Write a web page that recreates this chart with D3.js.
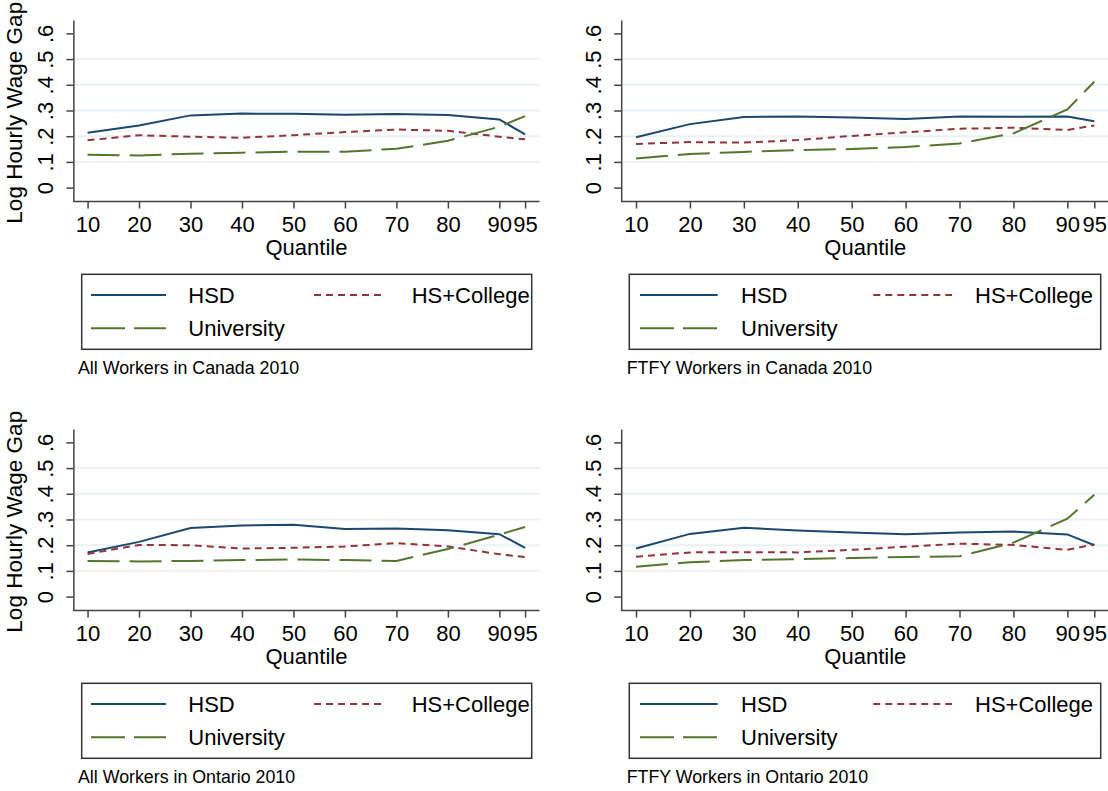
<!DOCTYPE html>
<html>
<head>
<meta charset="utf-8">
<script src="https://cdn.jsdelivr.net/npm/d3@7"></script>
<style>
  body { margin: 0; background: #fff; }
  svg { display: block; font-family: "Liberation Sans", Arial, Helvetica, sans-serif; }
</style>
</head>
<body>
<div id="chart"></div>
<script>
// quantiles on the x axis
const quantiles = [10, 20, 30, 40, 50, 60, 70, 80, 90, 95];
const yTicks = [0, 0.1, 0.2, 0.3, 0.4, 0.5, 0.6];
const gridTicks = [0.1, 0.2, 0.3, 0.4, 0.5];
const seriesNames = ["HSD", "HS+College", "University"];

// All workers, Canada
const canAllHSD = [0.213, 0.242, 0.281, 0.288, 0.287, 0.283, 0.286, 0.282, 0.265, 0.207];
const canAllCollege = [0.184, 0.204, 0.198, 0.194, 0.204, 0.216, 0.226, 0.221, 0.198, 0.188];
const canAllUniv = [0.128, 0.125, 0.132, 0.136, 0.140, 0.140, 0.151, 0.182, 0.237, 0.278];

// FTFY workers, Canada
const canFtfyHSD = [0.196, 0.247, 0.275, 0.277, 0.273, 0.267, 0.277, 0.276, 0.277, 0.258];
const canFtfyCollege = [0.170, 0.177, 0.175, 0.185, 0.201, 0.215, 0.229, 0.233, 0.224, 0.242];
const canFtfyUniv = [0.113, 0.131, 0.139, 0.146, 0.150, 0.158, 0.172, 0.211, 0.304, 0.412];

// All workers, Ontario
const ontAllHSD = [0.172, 0.213, 0.267, 0.277, 0.280, 0.263, 0.265, 0.258, 0.243, 0.190];
const ontAllCollege = [0.166, 0.201, 0.200, 0.187, 0.190, 0.195, 0.208, 0.195, 0.165, 0.154];
const ontAllUniv = [0.139, 0.137, 0.139, 0.142, 0.145, 0.142, 0.139, 0.185, 0.241, 0.271];

// FTFY workers, Ontario
const ontFtfyHSD = [0.187, 0.244, 0.268, 0.257, 0.249, 0.243, 0.249, 0.253, 0.242, 0.200];
const ontFtfyCollege = [0.155, 0.172, 0.173, 0.172, 0.182, 0.194, 0.206, 0.201, 0.182, 0.203];
const ontFtfyUniv = [0.116, 0.134, 0.142, 0.146, 0.150, 0.154, 0.157, 0.210, 0.303, 0.396];

const panels = [
  { caption: "All Workers in Canada 2010", col: 0, row: 0, data: [canAllHSD, canAllCollege, canAllUniv] },
  { caption: "FTFY Workers in Canada 2010", col: 1, row: 0, data: [canFtfyHSD, canFtfyCollege, canFtfyUniv] },
  { caption: "All Workers in Ontario 2010", col: 0, row: 1, data: [ontAllHSD, ontAllCollege, ontAllUniv] },
  { caption: "FTFY Workers in Ontario 2010", col: 1, row: 1, data: [ontFtfyHSD, ontFtfyCollege, ontFtfyUniv] }
];

const styles = [
  { color: "#1a476f", dash: null, legendDash: null },
  { color: "#90353b", dash: "7,5", legendDash: "7,5" },
  { color: "#55752f", dash: "32,10", legendDash: "34,9" }
];

// column geometry
const cols = [
  { x0: 73.4, x1: 539.5, box: [81.7, 531.7], lineA: [91, 166], textA: 188.3, lineB: [314, 385], textB: 411.7, capX: 78, yTitle: true },
  { x0: 621.2, x1: 1109.4, box: [629.3, 1100.7], lineA: [640, 717.7], textA: 741, lineB: [873.3, 952], textB: 975, capX: 626.7, yTitle: false }
];
const rowOffset = [0, 409];

const width = 1108, height = 791;
const svg = d3.select("#chart").append("svg")
  .attr("width", width)
  .attr("height", height);

panels.forEach(p => {
  const c = cols[p.col];
  const dy = rowOffset[p.row];
  const g = svg.append("g").attr("transform", `translate(0,${dy})`);

  const x = d3.scaleLinear().domain([7.25, 97.8]).range([c.x0, c.x1]);
  const y = d3.scaleLinear().domain([-0.054, 0.652]).range([201.5, 20]);

  // gridlines
  g.selectAll("line.grid")
    .data(gridTicks)
    .join("line")
    .attr("class", "grid")
    .attr("x1", c.x0).attr("x2", c.x1)
    .attr("y1", d => y(d)).attr("y2", d => y(d))
    .attr("stroke", "#eaf0f4")
    .attr("stroke-width", 2);

  // y axis
  const yAxis = g.append("g")
    .attr("transform", `translate(${c.x0},0)`)
    .call(d3.axisLeft(y).tickValues(yTicks).tickSize(7).tickSizeOuter(0)
      .tickFormat(d => d === 0 ? "0" : d3.format(".1f")(d).replace(/^0/, "")));
  yAxis.select(".domain").attr("stroke", "#444").attr("stroke-width", 1.5);
  yAxis.selectAll(".tick line").attr("stroke", "#444").attr("stroke-width", 1.5);
  yAxis.selectAll(".tick text")
    .attr("x", null).attr("dy", null)
    .attr("transform", "translate(-20,0) rotate(-90)")
    .attr("text-anchor", "middle")
    .attr("fill", "#000")
    .attr("font-size", 22);

  // x axis
  const xAxis = g.append("g")
    .attr("transform", "translate(0,201.5)")
    .call(d3.axisBottom(x).tickValues(quantiles).tickSize(7).tickSizeOuter(0).tickFormat(d3.format("d")));
  xAxis.select(".domain").attr("stroke", "#444").attr("stroke-width", 1.5);
  xAxis.selectAll(".tick line").attr("stroke", "#444").attr("stroke-width", 1.5);
  xAxis.selectAll(".tick text")
    .attr("y", 30).attr("dy", null)
    .attr("fill", "#000")
    .attr("font-size", 22);
  xAxis.selectAll(".domain").attr("d", `M${c.x0},0H${c.x1}`);

  g.append("text")
    .attr("x", (c.x0 + c.x1) / 2)
    .attr("y", 255)
    .attr("text-anchor", "middle")
    .attr("font-size", 22)
    .text("Quantile");

  if (c.yTitle) {
    g.append("text")
      .attr("transform", `translate(22,${(20 + 201.5) / 2 + 2}) rotate(-90)`)
      .attr("text-anchor", "middle")
      .attr("font-size", 22.5)
      .text("Log Hourly Wage Gap");
  }

  // series lines
  const line = d3.line()
    .x((d, i) => x(quantiles[i]))
    .y(d => y(d));

  p.data.forEach((vals, k) => {
    g.append("path")
      .datum(vals)
      .attr("fill", "none")
      .attr("stroke", styles[k].color)
      .attr("stroke-width", 2)
      .attr("stroke-dasharray", styles[k].dash)
      .attr("d", line);
  });

  // legend
  g.append("rect")
    .attr("x", c.box[0]).attr("y", 274.3)
    .attr("width", c.box[1] - c.box[0]).attr("height", 75)
    .attr("fill", "#fff")
    .attr("stroke", "#333")
    .attr("stroke-width", 1.5);

  const items = [
    { name: seriesNames[0], s: styles[0], line: c.lineA, tx: c.textA, cy: 295 },
    { name: seriesNames[1], s: styles[1], line: c.lineB, tx: c.textB, cy: 295 },
    { name: seriesNames[2], s: styles[2], line: c.lineA, tx: c.textA, cy: 328.3 }
  ];
  items.forEach(it => {
    g.append("line")
      .attr("x1", it.line[0]).attr("x2", it.line[1])
      .attr("y1", it.cy).attr("y2", it.cy)
      .attr("stroke", it.s.color)
      .attr("stroke-width", 2)
      .attr("stroke-dasharray", it.s.legendDash);
    g.append("text")
      .attr("x", it.tx).attr("y", it.cy + 8)
      .attr("font-size", 22)
      .text(it.name);
  });

  g.append("text")
    .attr("x", c.capX).attr("y", 374)
    .attr("font-size", 17.8)
    .text(p.caption);
});
</script>
</body>
</html>
